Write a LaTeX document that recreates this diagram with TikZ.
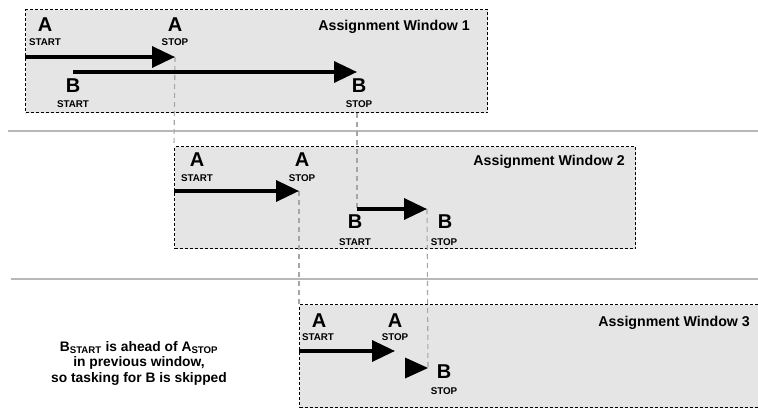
\documentclass[tikz,border=0pt]{standalone}
\usepackage{fontspec}
\setmainfont{Liberation Sans}
\usetikzlibrary{arrows.meta}

\begin{document}
\begin{tikzpicture}[x=1pt,y=-1pt,
  win/.style={draw, dash pattern=on 3pt off 2pt, fill=black!10, line width=1.2pt, anchor=north west, inner sep=0pt},
  title/.style={font=\bfseries\fontsize{14.2}{16}\selectfont, anchor=base east, inner sep=0pt},
  letter/.style={font=\bfseries\fontsize{20}{24}\selectfont, anchor=base, inner sep=0pt},
  tag/.style={font=\bfseries\fontsize{9.8}{11}\selectfont, anchor=base, inner sep=0pt},
  task/.style={line width=3.5pt, -{Triangle[length=23pt,width=21pt]}},
  guide/.style={black!35, line width=1.1pt, dash pattern=on 5pt off 4pt},
  sep/.style={black!28, line width=1.5pt}]
\useasboundingbox (0,0) rectangle (758,409);
\clip (0,0) rectangle (758,409);

% separators
\draw[sep] (8,131) -- (758,131);
\draw[sep] (11,279) -- (758,279);

% windows
\node[win, minimum width=462pt, minimum height=103pt] (w1) at (25,9) {};
\node[win, minimum width=461pt, minimum height=102pt] (w2) at (174,146) {};
\node[win, minimum width=480pt, minimum height=103pt] (w3) at (299,304) {};
\node[title] (t1) at (470,31) {Assignment Window 1};
\node[title] (t2) at (625,166) {Assignment Window 2};
\node[title] (t3) at (750,326) {Assignment Window 3};

% window 1
\coordinate (a1s) at (25,57);
\coordinate (a1e) at (175,57);
\coordinate (b1s) at (73,72);
\coordinate (b1e) at (357,72);
\node[letter] (la1s) at (45,32) {A};
\node[tag] (ta1s) at (45,46) {START};
\node[letter] (la1e) at (175,32) {A};
\node[tag] (ta1e) at (175,46) {STOP};
\node[letter] (lb1s) at (73,93) {B};
\node[tag] (tb1s) at (73,108) {START};
\node[letter] (lb1e) at (359,93) {B};
\node[tag] (tb1e) at (359,108) {STOP};

% window 2
\coordinate (a2s) at (174,191);
\coordinate (a2e) at (299,191);
\coordinate (b2s) at (357,209);
\coordinate (b2e) at (427,209);
\node[letter] (la2s) at (197,167) {A};
\node[tag] (ta2s) at (197,182) {START};
\node[letter] (la2e) at (302,167) {A};
\node[tag] (ta2e) at (302,182) {STOP};
\node[letter] (lb2s) at (355,229) {B};
\node[tag] (tb2s) at (355,245) {START};
\node[letter] (lb2e) at (445,229) {B};
\node[tag] (tb2e) at (444,245) {STOP};

% window 3
\coordinate (a3s) at (299,351);
\coordinate (a3e) at (395,351);
\coordinate (b3s) at (405,368);
\coordinate (b3e) at (428,368);
\node[letter] (la3s) at (319,327) {A};
\node[tag] (ta3s) at (318,340) {START};
\node[letter] (la3e) at (395,327) {A};
\node[tag] (ta3e) at (395,340) {STOP};
\node[letter] (lb3e) at (444,378) {B};
\node[tag] (tb3e) at (444,394) {STOP};

% hand-over lines
\draw[guide] (a1e) -- (w2.north west);
\draw[guide] (b1e |- w1.south) -- (b2s);
\draw[guide] (a2e) -- (w3.north west);
\draw[guide] (b2e) -- (b3e);

% tasks
\draw[task] (a1s) -- (a1e);
\draw[task] (b1s) -- (b1e);
\draw[task] (a2s) -- (a2e);
\draw[task] (b2s) -- (b2e);
\draw[task] (a3s) -- (a3e);
\fill (b3s) ++(0,-10.5) -- (b3e) -- ++(-23,10.5) -- cycle;

\node[align=center, font=\bfseries\fontsize{13.8}{15.5}\selectfont] (note) at (139,363)
  {B\textsubscript{START} is ahead of A\textsubscript{STOP}\\in previous window,\\so tasking for B is skipped};
\end{tikzpicture}
\end{document}
